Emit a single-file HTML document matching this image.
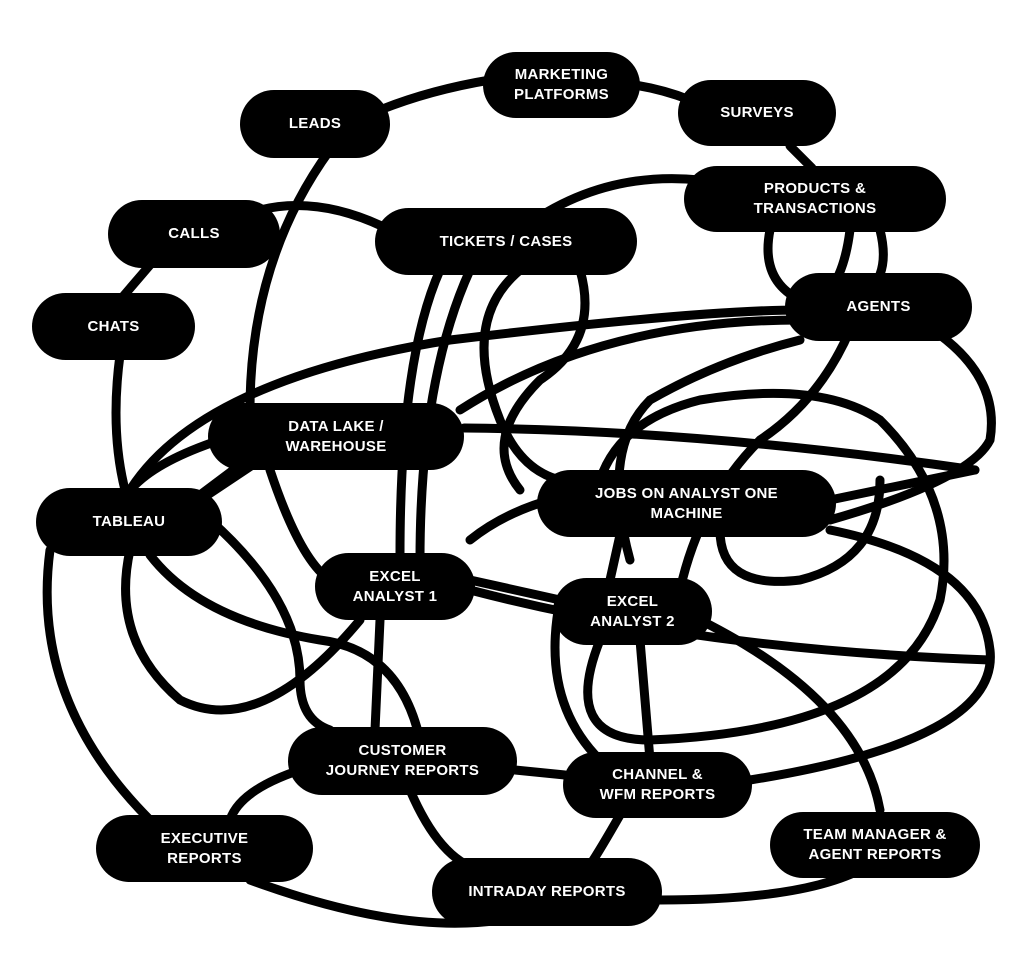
<!DOCTYPE html>
<html><head><meta charset="utf-8"><style>
html,body{margin:0;padding:0;background:#fff;}
body{width:1024px;height:961px;position:relative;overflow:hidden;font-family:"Liberation Sans",sans-serif;}
svg{position:absolute;left:0;top:0;}
.n{position:absolute;background:#000;color:#fff;border-radius:34px;display:flex;align-items:center;justify-content:center;text-align:center;font-weight:bold;font-size:15px;line-height:20px;letter-spacing:0.3px;}
</style></head><body>
<svg width="1024" height="961" viewBox="0 0 1024 961" fill="none" stroke="#000" stroke-width="9" stroke-linecap="round">
<path d="M380 110 Q430 90 490 80"/>
<path d="M635 85 Q665 90 690 100"/>
<path d="M790 146 L812 168"/>
<path d="M330 150 Q250 260 250 410"/>
<path d="M260 210 Q320 195 390 230"/>
<path d="M150 265 L120 300"/>
<path d="M120 355 Q110 430 125 490"/>
<path d="M520 230 Q600 170 700 180"/>
<path d="M770 230 Q760 280 800 300"/>
<path d="M850 230 Q845 270 830 290"/>
<path d="M880 230 Q890 270 870 290"/>
<path d="M850 330 Q820 400 760 440 Q700 500 680 590"/>
<path d="M50 550 Q30 700 150 820"/>
<path d="M250 880 Q400 935 500 920"/>
<path d="M660 900 Q800 900 860 870"/>
<path d="M750 780 Q1000 740 990 650 Q980 560 830 530"/>
<path d="M130 550 Q110 640 180 700 Q260 740 360 620"/>
<path d="M380 620 L375 730"/>
<path d="M515 770 L565 775"/>
<path d="M300 770 Q240 790 230 820"/>
<path d="M410 790 Q440 860 480 870"/>
<path d="M620 815 Q600 850 590 865"/>
<path d="M464 428 Q700 430 975 470"/>
<path d="M460 410 Q600 320 800 320"/>
<path d="M130 490 Q200 380 450 340 Q700 310 800 310"/>
<path d="M470 270 Q420 380 420 560"/>
<path d="M440 270 Q400 360 400 555"/>
<path d="M580 270 Q600 340 540 380 Q480 440 520 490"/>
<path d="M520 270 Q460 320 500 420 Q520 470 560 480"/>
<path d="M470 580 L560 600"/>
<path d="M620 535 L610 580"/>
<path d="M830 500 L975 470"/>
<path d="M600 640 Q560 740 650 740 Q900 730 940 600 Q960 500 880 420 Q820 380 700 400 Q620 420 600 480"/>
<path d="M270 470 Q300 560 330 580"/>
<path d="M940 335 Q1000 380 990 440 Q970 480 830 520"/>
<path d="M470 590 Q700 650 990 660"/>
<path d="M210 520 Q300 600 300 680 Q300 720 330 730"/>
<path d="M150 555 Q200 620 320 640 Q400 650 420 740"/>
<path d="M700 620 Q860 700 880 810"/>
<path d="M560 600 Q540 700 600 760"/>
<path d="M720 530 Q720 590 800 580 Q880 560 880 480"/>
<path d="M120 540 Q100 480 220 440"/>
<path d="M200 500 L260 460"/>
<path d="M180 510 L240 465"/>
<path d="M470 540 Q520 500 600 490"/>
<path d="M800 340 Q720 360 650 400 Q600 450 630 560"/>
<path d="M640 640 L650 760"/>
</svg>
<div class="n" style="left:483px;top:52px;width:157px;height:66px">MARKETING<br>PLATFORMS</div>
<div class="n" style="left:240px;top:90px;width:150px;height:68px">LEADS</div>
<div class="n" style="left:678px;top:80px;width:158px;height:66px">SURVEYS</div>
<div class="n" style="left:684px;top:166px;width:262px;height:66px">PRODUCTS &amp;<br>TRANSACTIONS</div>
<div class="n" style="left:108px;top:200px;width:172px;height:68px">CALLS</div>
<div class="n" style="left:375px;top:208px;width:262px;height:67px">TICKETS / CASES</div>
<div class="n" style="left:32px;top:293px;width:163px;height:67px">CHATS</div>
<div class="n" style="left:785px;top:273px;width:187px;height:68px">AGENTS</div>
<div class="n" style="left:208px;top:403px;width:256px;height:67px">DATA LAKE /<br>WAREHOUSE</div>
<div class="n" style="left:36px;top:488px;width:186px;height:68px">TABLEAU</div>
<div class="n" style="left:537px;top:470px;width:299px;height:67px">JOBS ON ANALYST ONE<br>MACHINE</div>
<div class="n" style="left:315px;top:553px;width:160px;height:67px">EXCEL<br>ANALYST 1</div>
<div class="n" style="left:553px;top:578px;width:159px;height:67px">EXCEL<br>ANALYST 2</div>
<div class="n" style="left:288px;top:727px;width:229px;height:68px">CUSTOMER<br>JOURNEY REPORTS</div>
<div class="n" style="left:563px;top:752px;width:189px;height:66px">CHANNEL &amp;<br>WFM REPORTS</div>
<div class="n" style="left:96px;top:815px;width:217px;height:67px">EXECUTIVE<br>REPORTS</div>
<div class="n" style="left:770px;top:812px;width:210px;height:66px">TEAM MANAGER &amp;<br>AGENT REPORTS</div>
<div class="n" style="left:432px;top:858px;width:230px;height:68px">INTRADAY REPORTS</div>
</body></html>
